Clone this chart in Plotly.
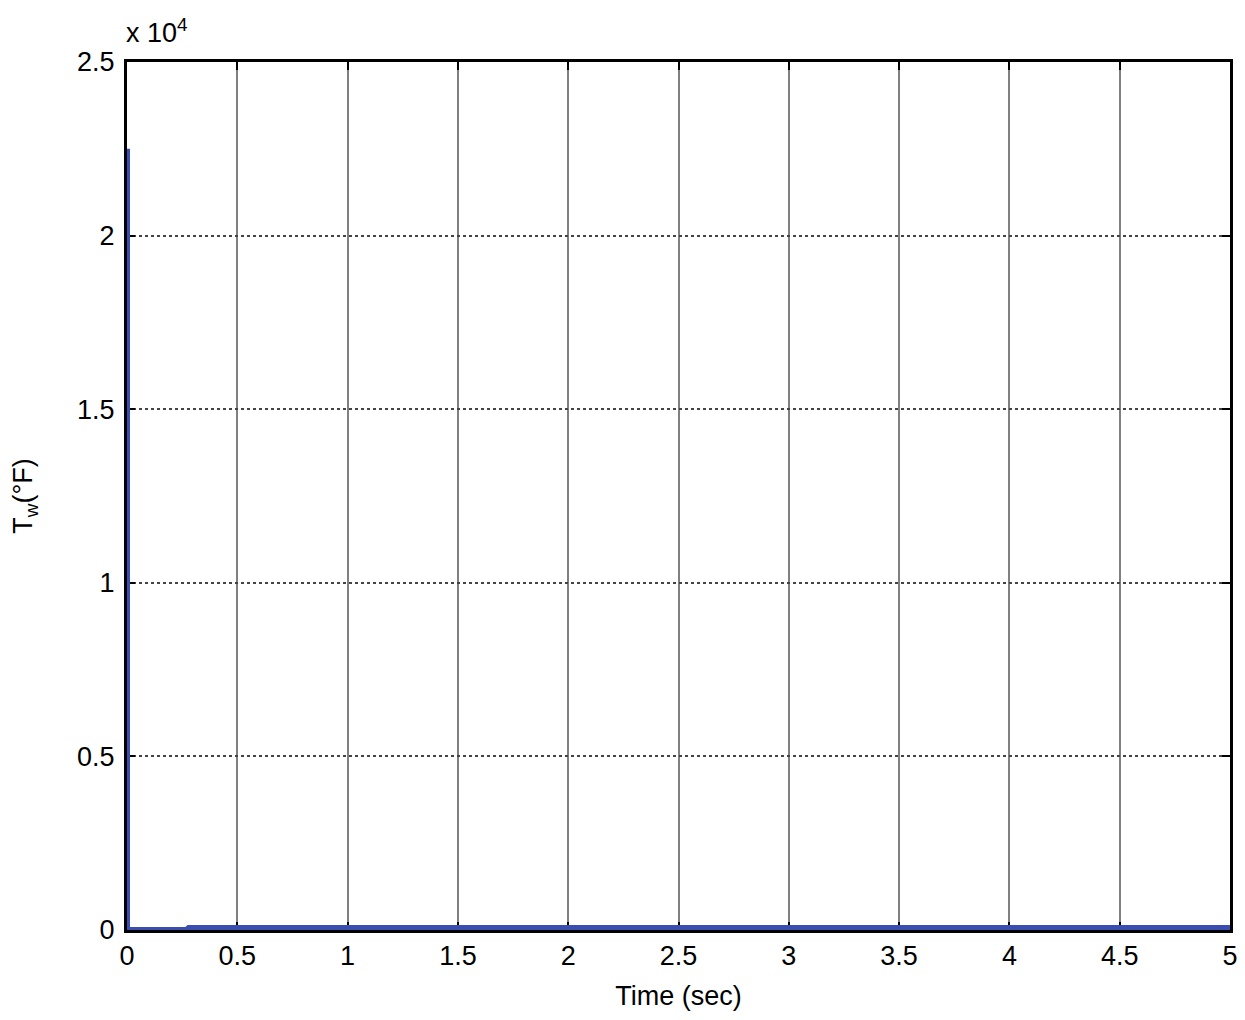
import plotly.graph_objects as go

# Water temperature response
time_sec = [0, 0, 0.27, 0.28, 5]
tw_degF = [22500, 0, 0, 60, 60]

x_ticks = [0, 0.5, 1, 1.5, 2, 2.5, 3, 3.5, 4, 4.5, 5]
y_ticks = [0, 5000, 10000, 15000, 20000, 25000]
y_ticktext = ["0", "0.5", "1", "1.5", "2", "2.5"]

font = dict(family="Liberation Sans, Arial", size=27, color="black")

fig = go.Figure(go.Scatter(x=time_sec, y=tw_degF, mode="lines",
                           line=dict(color="#3a4db0", width=6)))

fig.update_layout(
    width=1237, height=1012,
    margin=dict(l=119, r=15, t=54, b=90, autoexpand=False),
    plot_bgcolor="white", paper_bgcolor="white",
    font=font, showlegend=False,
    xaxis=dict(range=[0, 5], tickvals=x_ticks,
               ticktext=[f"{v:g}" for v in x_ticks],
               showgrid=True, gridcolor="#808080", gridwidth=2,
               showline=True, linecolor="black", linewidth=3, mirror="ticks",
               ticks="inside", ticklen=8, tickwidth=2, tickcolor="black",
               zeroline=False, layer="below traces", automargin=False,
               title=dict(text="Time (sec)", font=font, standoff=16)),
    yaxis=dict(range=[0, 25000], tickvals=y_ticks, ticktext=y_ticktext,
               showgrid=True, gridcolor="#444", gridwidth=1.5, griddash="dot",
               showline=True, linecolor="black", linewidth=3, mirror="ticks",
               ticks="inside", ticklen=8, tickwidth=2, tickcolor="black",
               ticklabelstandoff=4,
               zeroline=False, layer="below traces", automargin=False,
               title=dict(text="T<sub>w</sub>(°F)", font=font, standoff=63)),
    annotations=[dict(text="x 10<sup>4</sup>", xref="paper", yref="paper",
                      x=0, y=1, xanchor="left", yanchor="bottom",
                      xshift=-3, yshift=12, showarrow=False, font=font)],
)

fig.write_html("out.html")
